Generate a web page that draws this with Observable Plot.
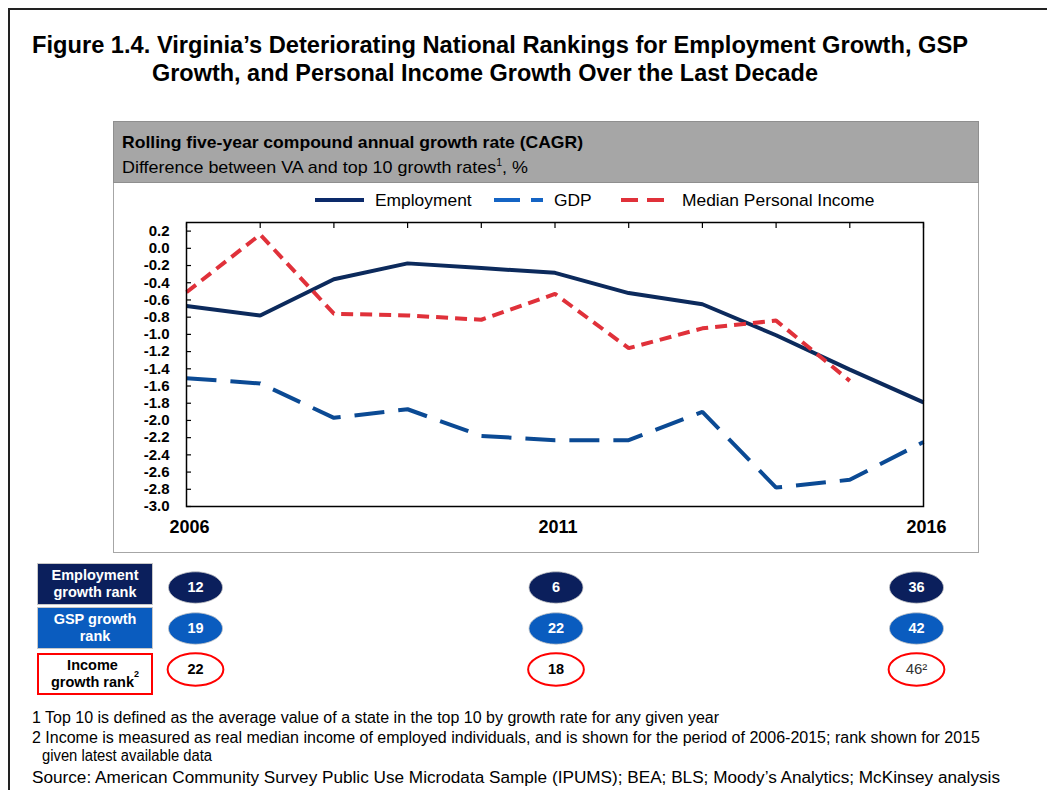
<!DOCTYPE html>
<html>
<head>
<meta charset="utf-8">
<script src="https://cdn.jsdelivr.net/npm/d3@7"></script>
<script src="https://cdn.jsdelivr.net/npm/@observablehq/plot@0.6"></script>
<style>
  html, body { margin: 0; padding: 0; background: #fff; }
  #page { position: relative; width: 1047px; height: 790px; overflow: hidden; font-family: "Liberation Sans", Arial, sans-serif; color: #000; }
  .abs { position: absolute; white-space: nowrap; }
  .fit { transform-origin: 0 50%; }
  .title { font-weight: bold; font-size: 23px; line-height: 28px; }
  .lbl { position: absolute; left: 37px; width: 116px; box-sizing: border-box; display: flex; align-items: center; justify-content: center; text-align: center; font-weight: bold; font-size: 14.5px; line-height: 17px; }
  .foot { position: absolute; left: 32px; font-size: 16px; line-height: 18px; white-space: nowrap; }
</style>
</head>
<body>
<div id="page">
  <div class="abs" style="left:8px;top:8px;width:1039px;height:0;border-top:2px solid #222;"></div>
  <div class="abs" style="left:8px;top:8px;width:0;height:782px;border-left:2px solid #222;"></div>

  <div class="abs title fit" data-w="936" style="left:32px;top:31px;">Figure 1.4. Virginia’s Deteriorating National Rankings for Employment Growth, GSP</div>
  <div class="abs title fit" data-w="666" style="left:152px;top:59px;">Growth, and Personal Income Growth Over the Last Decade</div>

  <div class="abs" style="left:113px;top:121px;width:864px;height:430px;border:1px solid #a6a6a6;"></div>
  <div class="abs" style="left:113px;top:121px;width:864px;height:60px;background:#a6a6a6;border:1px solid #8f8f8f;"></div>
  <div class="abs fit" data-w="461" style="left:122px;top:133px;font-weight:bold;font-size:17px;line-height:20px;">Rolling five-year compound annual growth rate (CAGR)</div>
  <div class="abs fit" data-w="406" style="left:122px;top:153px;font-size:17px;line-height:20px;">Difference between VA and top 10 growth rates<sup style="font-size:10px;">1</sup>, %</div>

  <div id="legend" class="abs" style="left:0;top:189px;"></div>
  <div id="chart" class="abs" style="left:113px;top:182px;"></div>

  <div class="lbl" style="top:563px;height:42px;background:#0b1f5c;color:#fff;border:1px solid #c8c8c8;">Employment<br>growth rank</div>
  <div class="lbl" style="top:607px;height:42px;background:#0a5cbf;color:#fff;border:1px solid #c8c8c8;">GSP growth<br>rank</div>
  <div class="lbl" style="top:653px;height:42px;background:#fff;color:#000;border:2px solid #f00;">Income<br>growth rank<sup style="font-size:9px;line-height:0;">2</sup></div>
  <div id="ranks" class="abs" style="left:0;top:555px;"></div>

  <div class="foot fit" data-w="687" style="top:709px;">1 Top 10 is defined as the average value of a state in the top 10 by growth rate for any given year</div>
  <div class="foot fit" data-w="948" style="top:729px;">2 Income is measured as real median income of employed individuals, and is shown for the period of 2006-2015; rank shown for 2015</div>
  <div class="foot fit" data-w="170" style="top:747px;left:42px;">given latest available data</div>
  <div class="foot fit" data-w="968" style="top:769px;">Source: American Community Survey Public Use Microdata Sample (IPUMS); BEA; BLS; Moody’s Analytics; McKinsey analysis</div>
</div>
<script>
// ---- Data ----
const years = [2006, 2007, 2008, 2009, 2010, 2011, 2012, 2013, 2014, 2015, 2016];
const employment = [-0.67, -0.78, -0.36, -0.175, -0.23, -0.285, -0.52, -0.65, -1.01, -1.41, -1.79];
const gdp = [-1.51, -1.57, -1.97, -1.87, -2.18, -2.23, -2.23, -1.90, -2.78, -2.69, -2.25];
const income = [-0.51, 0.16, -0.76, -0.78, -0.83, -0.53, -1.16, -0.93, -0.84, -1.54, null];
const seriesNames = ["Employment", "GDP", "Median Personal Income"];
const yTicks = [0.2, 0.0, -0.2, -0.4, -0.6, -0.8, -1.0, -1.2, -1.4, -1.6, -1.8, -2.0, -2.2, -2.4, -2.6, -2.8, -3.0];
const xLabelTicks = [2006, 2011, 2016];

const rankYears = [2006, 2011, 2016];
const rankRows = ["Employment", "GSP", "Income"];
const employmentRank = ["12", "6", "36"];
const gspRank = ["19", "22", "42"];
const incomeRank = ["22", "18", "46²"];

// ---- Styles ----
const styles = {
  "Employment": {stroke: "#0c2a5c", dash: null, legendStroke: "#0c2a6a", legendDash: null},
  "GDP": {stroke: "#0b4a94", dash: "30,14", legendStroke: "#1464c4", legendDash: "26,11"},
  "Median Personal Income": {stroke: "#e0313a", dash: "12,7", legendStroke: "#e0313a", legendDash: "17,9"}
};

const table = [];
[employment, gdp, income].forEach((arr, i) => {
  arr.forEach((v, j) => { if (v !== null) table.push({series: seriesNames[i], year: years[j], value: v}); });
});

const fmt = d => { const r = Math.round(d * 10) / 10; return (r === 0 ? 0 : r).toFixed(1); };

const chart = Plot.plot({
  width: 865,
  height: 370,
  marginLeft: 73,
  marginRight: 55,
  marginTop: 40,
  marginBottom: 46,
  style: {fontFamily: "Liberation Sans, Arial, sans-serif", color: "#000", background: "transparent", overflow: "visible"},
  x: {domain: [2006, 2016], label: null},
  y: {domain: [-3.0, 0.3], label: null},
  marks: [
    Plot.axisY({ticks: yTicks, tickSize: 5, dx: 5, tickFormat: () => "", label: null, strokeWidth: 1.2}),
    Plot.axisY({ticks: yTicks, tickSize: 0, tickPadding: 17, tickFormat: fmt, label: null, fontWeight: "bold", fontSize: 15}),
    Plot.axisX({anchor: "top", ticks: years, tickSize: 5, dy: 5, tickFormat: () => "", label: null, strokeWidth: 1.2}),
    Plot.axisX({anchor: "bottom", ticks: xLabelTicks, tickSize: 0, tickPadding: 14, tickFormat: d => String(d), label: null, fontWeight: "bold", fontSize: 18, dx: 3}),
    ...seriesNames.map(name => Plot.line(table.filter(d => d.series === name), {
      x: "year", y: "value", stroke: styles[name].stroke, strokeWidth: 4,
      strokeDasharray: styles[name].dash, strokeLinejoin: "miter", strokeLinecap: "butt"
    })),
    Plot.frame({stroke: "#000", strokeWidth: 1.5})
  ]
});
document.getElementById("chart").appendChild(chart);

// ---- Legend ----
const legendItems = [
  {name: "Employment", x: 315, tx: 375},
  {name: "GDP", x: 494, tx: 554},
  {name: "Median Personal Income", x: 621, tx: 682}
];
const lg = d3.select("#legend").append("svg").attr("width", 1047).attr("height", 24).style("overflow", "visible");
legendItems.forEach(it => {
  const s = styles[it.name];
  lg.append("line").attr("x1", it.x).attr("x2", it.x + 49).attr("y1", 11).attr("y2", 11)
    .attr("stroke", s.legendStroke).attr("stroke-width", 4).attr("stroke-dasharray", s.legendDash);
  lg.append("text").attr("x", it.tx).attr("y", 17).text(it.name)
    .attr("font-family", "Liberation Sans, Arial, sans-serif").attr("font-size", 17.4);
});

// ---- Rank table ----
const K = 0.5522847;
const ellipse = {
  draw(ctx, size) {
    const r = Math.sqrt(size / Math.PI), a = r * 1.72, b = r, ka = a * K, kb = b * K;
    ctx.moveTo(a, 0);
    ctx.bezierCurveTo(a, kb, ka, b, 0, b);
    ctx.bezierCurveTo(-ka, b, -a, kb, -a, 0);
    ctx.bezierCurveTo(-a, -kb, -ka, -b, 0, -b);
    ctx.bezierCurveTo(ka, -b, a, -kb, a, 0);
    ctx.closePath();
  }
};
const rankData = [];
[employmentRank, gspRank, incomeRank].forEach((arr, i) => arr.forEach((v, j) => rankData.push({row: rankRows[i], year: rankYears[j], rank: v})));
const rowFill = {Employment: "#0b1f5c", GSP: "#0a5cbf", Income: "#fff"};

const ranks = Plot.plot({
  width: 1047,
  height: 150,
  marginLeft: 195,
  marginRight: 131,
  marginTop: 0,
  marginBottom: 0,
  style: {fontFamily: "Liberation Sans, Arial, sans-serif", background: "transparent", overflow: "visible"},
  x: {domain: [2006, 2016], axis: null},
  y: {type: "point", domain: rankRows, range: [32, 114.5], padding: 0, axis: null},
  marks: [
    Plot.dot(rankData.filter(d => d.row !== "Income"), {x: "year", y: "row", r: 15.7, symbol: ellipse, fill: d => rowFill[d.row], stroke: "#c8c8c8", strokeWidth: 0.8}),
    Plot.dot(rankData.filter(d => d.row === "Income"), {x: "year", y: "row", r: 16.2, symbol: ellipse, fill: "#fff", stroke: "#f00", strokeWidth: 2}),
    Plot.text(rankData.filter(d => d.row !== "Income"), {x: "year", y: "row", text: "rank", fill: "#fff", fontWeight: "bold", fontSize: 14.5}),
    Plot.text(rankData.filter(d => d.row === "Income" && d.year !== 2016), {x: "year", y: "row", text: "rank", fill: "#000", fontWeight: "bold", fontSize: 14.5}),
    Plot.text(rankData.filter(d => d.row === "Income" && d.year === 2016), {x: "year", y: "row", text: "rank", fill: "#333", fontFamily: "Liberation Sans Narrow, Liberation Sans, Arial", fontSize: 15})
  ]
});
document.getElementById("ranks").appendChild(ranks);

// ---- fit text widths to the reference layout ----
document.querySelectorAll(".fit").forEach(el => {
  const target = +el.dataset.w;
  const w = el.getBoundingClientRect().width;
  if (w > 0 && target > 0) el.style.transform = `scaleX(${target / w})`;
});
</script>
</body>
</html>
